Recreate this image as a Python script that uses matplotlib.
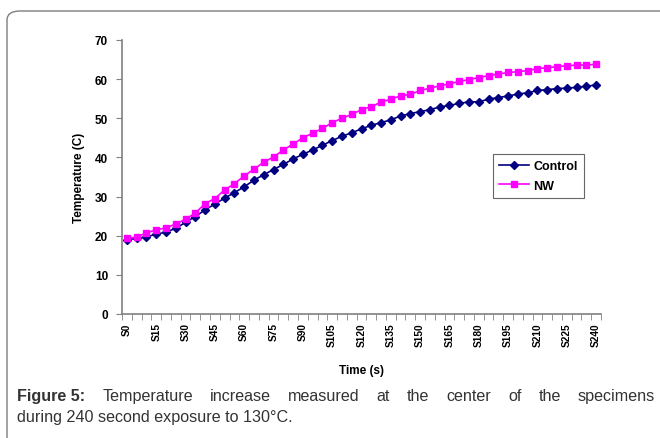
import matplotlib
matplotlib.use("Agg")
import matplotlib.pyplot as plt
from matplotlib.patches import FancyBboxPatch
from matplotlib.ticker import FixedLocator

plt.rcParams['font.family'] = ['Liberation Sans', 'DejaVu Sans']

# readings every 5 s
times = list(range(0, 245, 5))
control = [19.0, 19.3, 19.7, 20.4, 20.9, 21.9, 23.4, 24.9, 26.6, 28.1, 29.6, 31.0, 32.5,
           34.2, 35.6, 36.9, 38.2, 39.6, 40.8, 41.9, 43.1, 44.3, 45.4, 46.3, 47.3,
           48.2, 48.9, 49.6, 50.6, 51.2, 51.7, 52.2, 52.9, 53.3, 53.8, 54.2, 54.2,
           54.9, 55.3, 55.7, 56.2, 56.5, 57.1, 57.3, 57.6, 57.7, 57.9, 58.2, 58.5]
nw = [19.3, 19.7, 20.7, 21.5, 22.0, 23.0, 24.2, 25.8, 28.2, 29.5, 31.7, 33.3, 35.3,
      37.0, 38.8, 40.1, 41.9, 43.4, 45.0, 46.2, 47.4, 48.9, 50.0, 51.0, 52.2,
      53.0, 54.1, 54.9, 55.7, 56.1, 57.1, 57.7, 58.3, 58.8, 59.4, 59.9, 60.4,
      60.9, 61.3, 61.7, 61.9, 62.2, 62.7, 62.9, 63.2, 63.4, 63.6, 63.6, 63.8]
categories = ["S%d" % t for t in times]

caption_bold = "Figure 5:"
caption_line1 = "Temperature increase measured at the center of the specimens"
caption_line2 = "during 240 second exposure to 130°C."

fig = plt.figure(figsize=(6.6, 4.39), dpi=100)
W, H = 660.0, 439.0

# outer frame (only the top-left corner is visible)
frame = FancyBboxPatch((7 / W, -0.2), 1.2, (439 - 12) / H + 0.2,
                       boxstyle="round,pad=0,rounding_size=0.02",
                       transform=fig.transFigure, facecolor='none',
                       edgecolor='#7f7f7f', linewidth=1.0, zorder=0)
fig.patches.append(frame)

ax = fig.add_axes([122 / W, 1 - 315 / H, (601 - 122) / W, (315 - 41) / H])
ax.set_facecolor('none')
x = list(range(len(categories)))
ax.plot(x, control, color='#000080', marker='D', markersize=3.8, linewidth=1.2,
        label='Control')
ax.plot(x, nw, color='#FF00FF', marker='s', markersize=4.2, linewidth=1.2,
        label='NW')

ax.set_xlim(-0.5, len(categories) - 0.5)
ax.set_ylim(0, 70)
ax.set_yticks(range(0, 71, 10))
ax.set_xticks(x[::3])
ax.set_xticklabels(categories[::3], rotation=90, fontsize=7.3, fontweight='bold')
ax.xaxis.set_minor_locator(FixedLocator([i - 0.5 for i in range(len(categories) + 1)]))
ax.tick_params(axis='x', which='major', length=0, pad=6)
ax.tick_params(axis='x', which='minor', length=4, color='#808080', direction='out')
ax.tick_params(axis='y', length=4, color='#808080', labelsize=8.5, pad=6)
for lab in ax.get_yticklabels():
    lab.set_fontweight('bold')

for s in ['top', 'right']:
    ax.spines[s].set_visible(False)
for s in ['left', 'bottom']:
    ax.spines[s].set_color('#808080')
    ax.spines[s].set_linewidth(1.2)

ax.set_xlabel('Time (s)', fontsize=8.5, fontweight='bold', labelpad=13)
ax.set_ylabel('Temperature (C)', fontsize=8.5, fontweight='bold', labelpad=7)

leg = ax.legend(loc='upper left', bbox_to_anchor=((493 - 122) / 479, (315 - 155) / 274),
                fontsize=9, frameon=True, fancybox=False, handlelength=2.4,
                borderpad=0.5, labelspacing=0.6, handletextpad=0.3, borderaxespad=0)
leg.get_frame().set_edgecolor('#404040')
leg.get_frame().set_linewidth(0.8)
for t in leg.get_texts():
    t.set_fontweight('bold')

# caption, first line justified between x=17 and x=655
fig.canvas.draw()
r = fig.canvas.get_renderer()
fs = 11.6
words = [(caption_bold, 'bold')] + [(w, 'normal') for w in caption_line1.split()]
items = []
total = 0
for w, wt in words:
    t = fig.text(0, 1 - 397 / H, w, fontsize=fs, fontweight=wt, color='#333333',
                 va='center')
    wd = t.get_window_extent(renderer=r).width
    items.append((t, wd))
    total += wd
gap = (655 - 17 - total) / (len(items) - 1)
xpos = 17.0
for t, wd in items:
    t.set_x(xpos / W)
    xpos += wd + gap
fig.text(17 / W, 1 - 418 / H, caption_line2, fontsize=fs, color='#333333',
         va='center')

fig.savefig("out.png", dpi=100)
